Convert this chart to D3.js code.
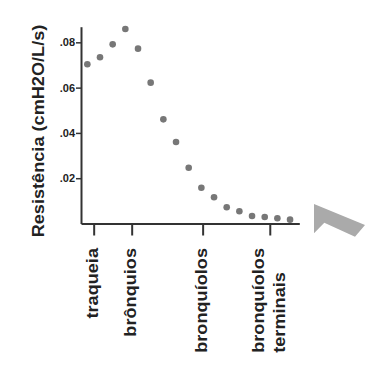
<!DOCTYPE html>
<html>
<head>
<meta charset="utf-8">
<script src="https://cdn.jsdelivr.net/npm/d3@7"></script>
<style>
  html, body { margin: 0; padding: 0; background: #fff; }
  svg { display: block; }
  text { font-family: "Liberation Sans", Arial, sans-serif; }
</style>
</head>
<body>
<svg id="chart" width="388" height="365"></svg>
<script>
// ---- data ----
const generations = [0, 1, 2, 3, 4, 5, 6, 7, 8, 9, 10, 11, 12, 13, 14, 15, 16];
const resistance = [0.0703, 0.0734, 0.0791, 0.0859, 0.0772, 0.0622, 0.0460, 0.0360,
                    0.0246, 0.0158, 0.0116, 0.0072, 0.0054, 0.0033, 0.0029, 0.0023, 0.0017];
const yTickValues = [0.02, 0.04, 0.06, 0.08];
const yTickLabels = [".02", ".04", ".06", ".08"];
const xLabelPositions = [0.5, 3.5, 9.1, 14.4];
const xLabels = [["traqueia"], ["brônquios"], ["bronquíolos"], ["bronquíolos", "terminais"]];
const yTitle = "Resistência (cmH2O/L/s)";

// ---- layout ----
const svg = d3.select("#chart");
const x = d3.scaleLinear().domain([-0.5, 16.73]).range([81, 299.3]);
const y = d3.scaleLinear().domain([0, 0.0869]).range([223.5, 26.7]);
const axisColor = "#333";
const stretch = 1.1;

// points
svg.append("g")
  .selectAll("circle")
  .data(generations)
  .join("circle")
  .attr("cx", d => x(d))
  .attr("cy", (d, i) => y(resistance[i]))
  .attr("r", 3.3)
  .attr("fill", "#777");

// y axis
const yAxis = svg.append("g")
  .attr("transform", `translate(${x.range()[0]},0)`)
  .call(d3.axisLeft(y).tickValues(yTickValues)
    .tickFormat((d, i) => yTickLabels[i]).tickSize(5).tickPadding(1).tickSizeOuter(0));
yAxis.select(".domain").attr("stroke", axisColor).attr("stroke-width", 2);
yAxis.selectAll(".tick line").attr("stroke", axisColor).attr("stroke-width", 1.5);
yAxis.selectAll(".tick text")
  .attr("fill", "#222")
  .style("font-size", "11px")
  .style("font-weight", "bold")
  .style("font-family", "'Liberation Sans', Arial, sans-serif");

// x axis
const xAxis = svg.append("g")
  .attr("transform", `translate(0,${y(0)})`)
  .call(d3.axisBottom(x).tickValues(xLabelPositions).tickFormat("").tickSize(12).tickSizeOuter(0));
xAxis.select(".domain").attr("stroke", axisColor).attr("stroke-width", 2);
xAxis.selectAll(".tick line").attr("stroke", axisColor).attr("stroke-width", 2);

// x labels (rotated, read bottom to top)
const labelTop = 248;
const fs = 16.5;
xLabelPositions.forEach((p, i) => {
  const lines = xLabels[i];
  const n = lines.length;
  const g = svg.append("g")
    .attr("transform", `translate(${x(p)},${labelTop}) rotate(-90) scale(${stretch},1)`);
  let firstLen = 0;
  lines.forEach((line, j) => {
    const baseOff = fs * 0.28 + (j - (n - 1) / 2) * fs * 1.3;
    const t = g.append("text")
      .attr("y", baseOff)
      .attr("fill", "#222")
      .style("font-size", fs + "px")
      .style("font-weight", "bold")
      .text(line);
    if (j === 0) {
      t.attr("text-anchor", "end").attr("x", 0);
      firstLen = t.node().getComputedTextLength();
    } else {
      t.attr("text-anchor", "start").attr("x", -firstLen);
    }
  });
});

// y title
svg.append("g")
  .attr("transform", `translate(44,131) rotate(-90) scale(${stretch},1)`)
  .append("text")
  .attr("text-anchor", "middle")
  .attr("fill", "#222")
  .style("font-size", fs + "px")
  .style("font-weight", "bold")
  .text(yTitle);

// decorative arrow shape on the right
svg.append("path")
  .attr("d", "M314,204 L365,225 L355,236.7 L324.3,222.7 L314,233.3 Z")
  .attr("fill", "#aaa");
</script>
</body>
</html>
